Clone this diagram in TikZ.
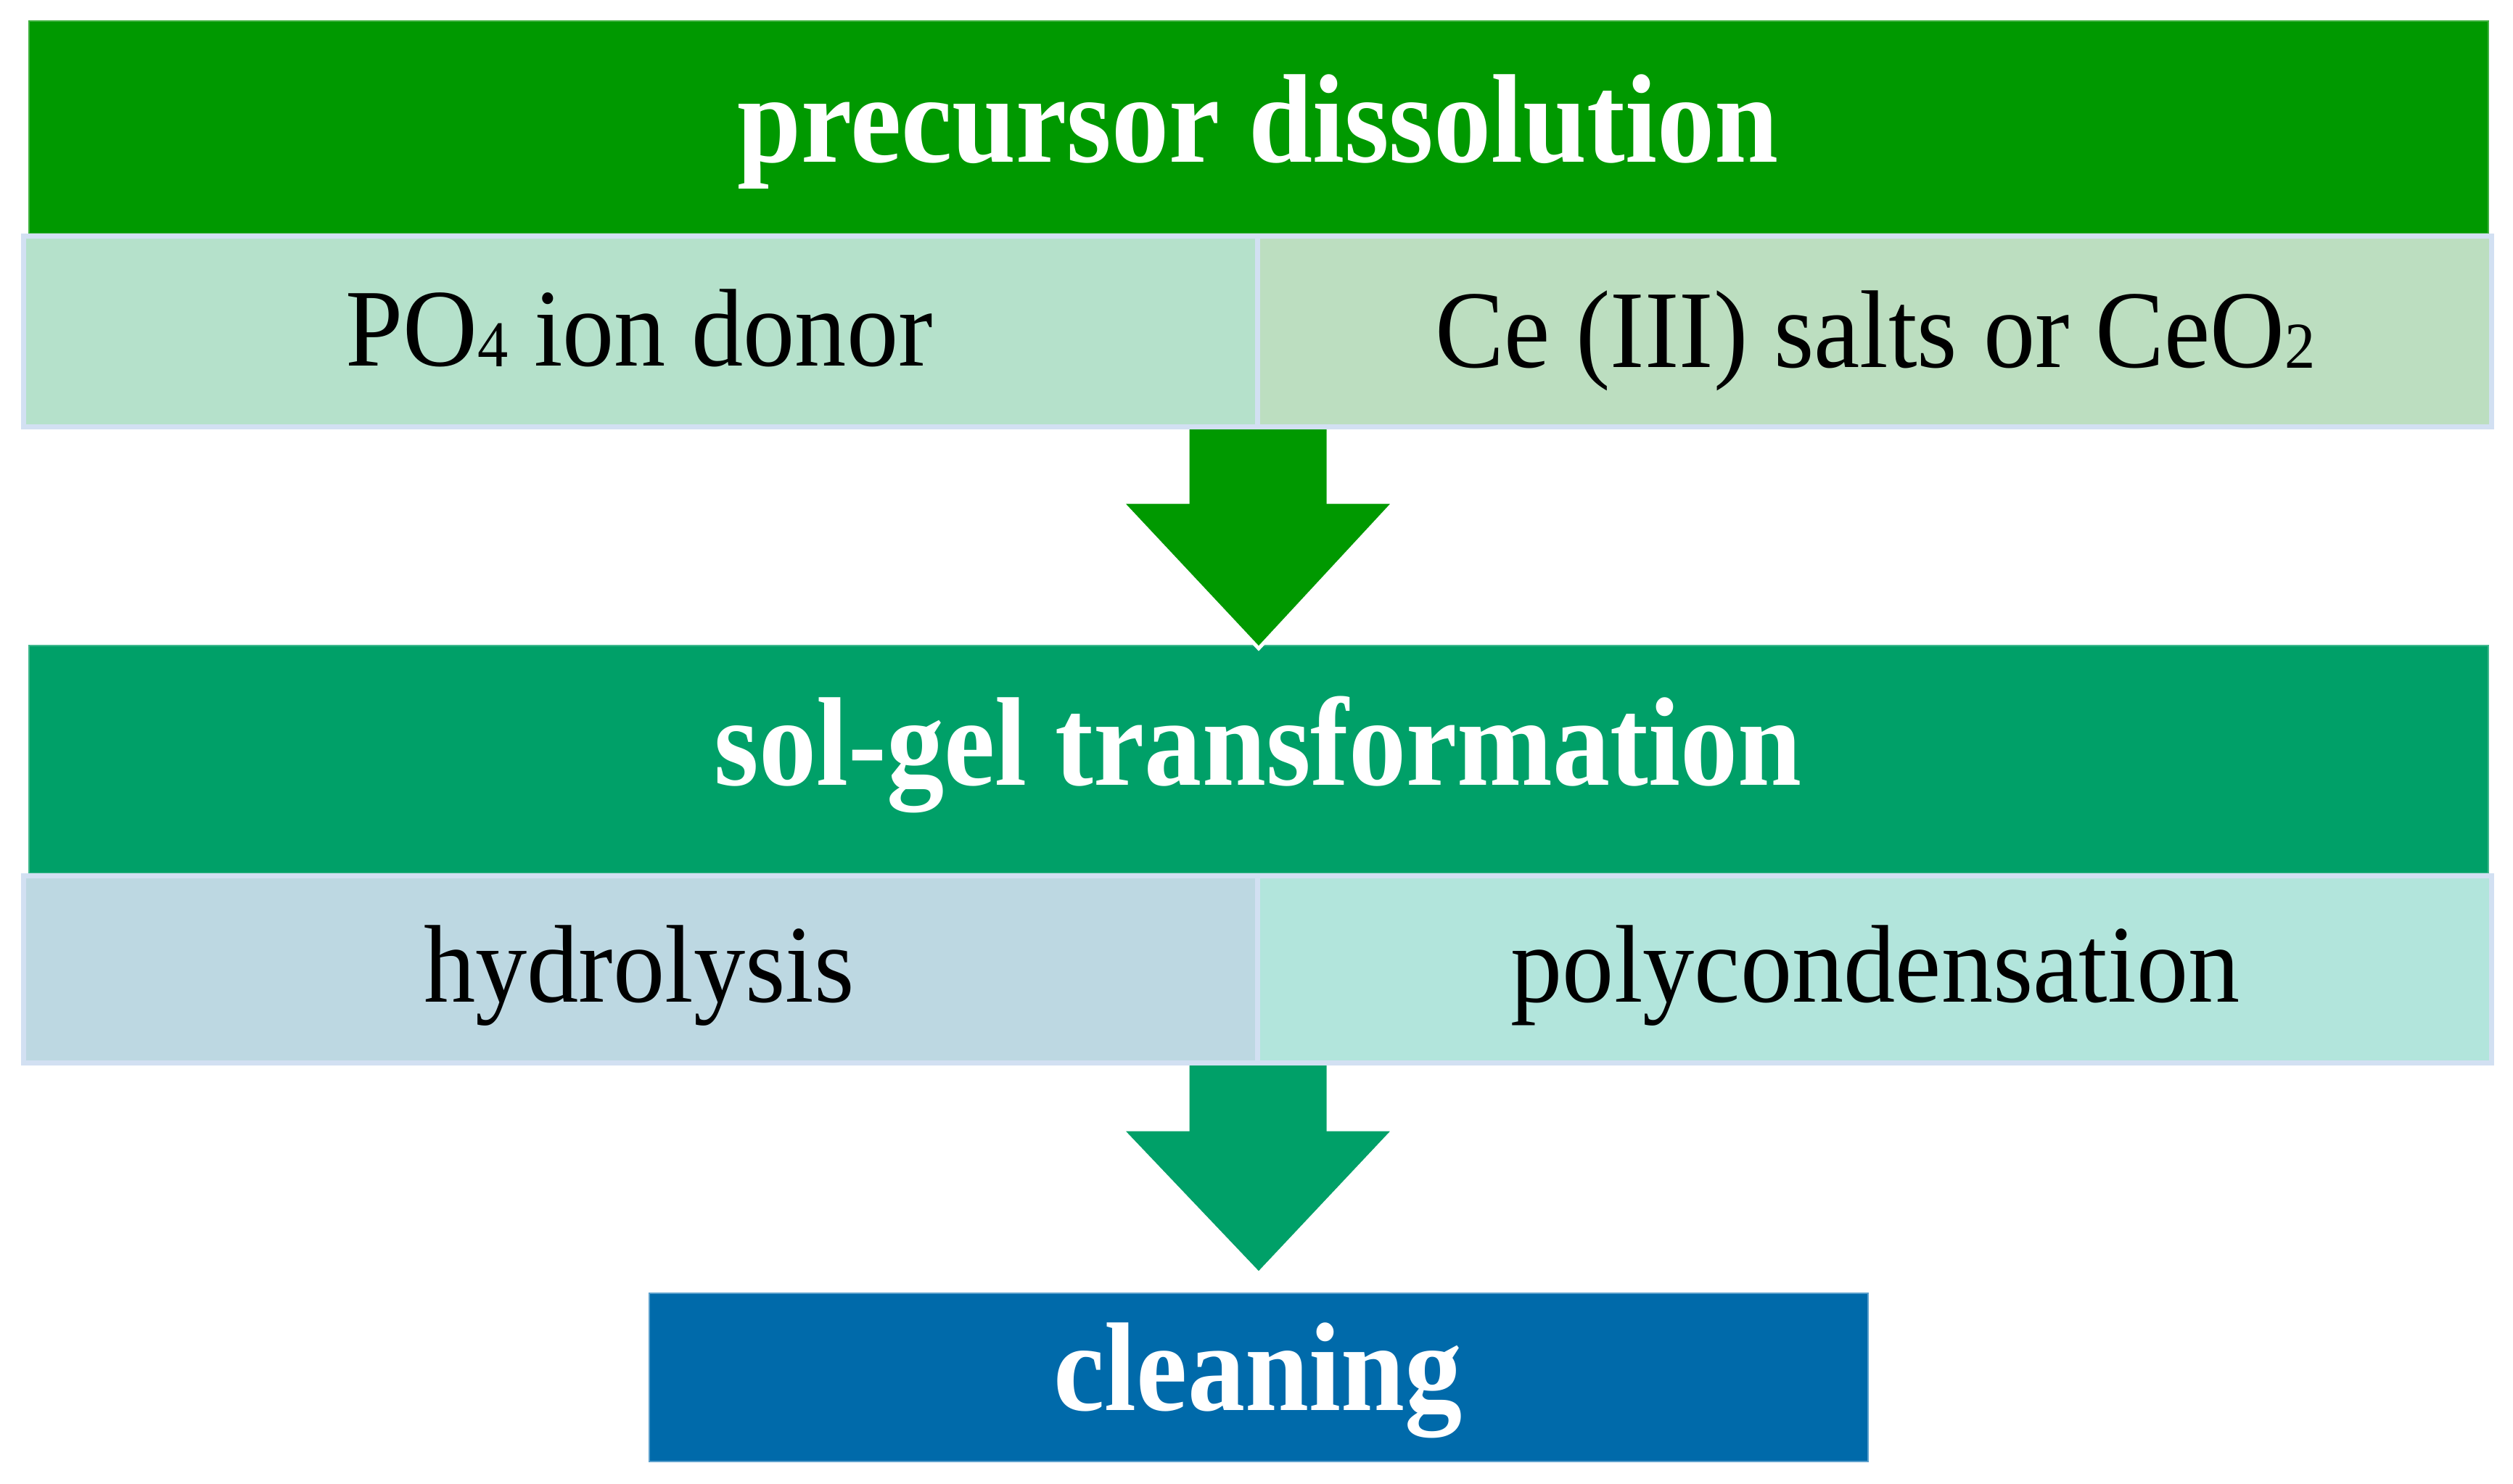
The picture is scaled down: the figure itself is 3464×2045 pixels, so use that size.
\documentclass[tikz,border=0pt]{standalone}
\usepackage{fontspec}
\setmainfont{Liberation Serif}
\usetikzlibrary{calc}
\definecolor{gA}{RGB}{0,153,0}
\definecolor{gB}{RGB}{0,160,104}
\definecolor{bl}{RGB}{0,106,170}
\definecolor{blEdge}{RGB}{90,160,205}
\definecolor{rAa}{RGB}{181,225,203}
\definecolor{rAb}{RGB}{188,222,192}
\definecolor{rBa}{RGB}{189,216,226}
\definecolor{rBb}{RGB}{178,229,220}
\definecolor{bord}{RGB}{210,224,242}
\newcommand{\mysub}[1]{\raisebox{-0.01em}{\fontsize{24}{24}\selectfont #1}}
\newcommand{\headstretch}[1]{\scalebox{1}[1.1]{#1}}
\newcommand{\substretch}[1]{\scalebox{1}[1.07]{#1}}
\begin{document}
\begin{tikzpicture}[x=0.01cm,y=-0.01cm,
  box/.style={rectangle, inner sep=0pt, outer sep=0pt, anchor=north west},
  subbox/.style={box, draw=bord, line width=0.07cm},
  headtxt/.style={font=\bfseries\fontsize{45}{54}\selectfont, text=white, anchor=base, inner sep=0pt},
  subtxt/.style={font=\fontsize{40.5}{48}\selectfont, text=black, anchor=base, inner sep=0pt},
  blockarrow/.style={draw=white, line width=0.05cm, line join=miter}
]
\useasboundingbox (0,0) rectangle (3464,2045);
\fill[white] (0,0) rectangle (3464,2045);

% stage 1
\node[box, fill=gA, draw=gA!75!white, line width=0.02cm, minimum width=33.88cm, minimum height=2.93cm] (g1) at (40,29) {};
\node[subbox, fill=rAa, minimum width=17.005cm, minimum height=2.63cm] (r1a) at (32.5,325.5) {};
\node[subbox, fill=rAb, minimum width=17.005cm, minimum height=2.63cm] (r1b) at (1733,325.5) {};
\node[headtxt] (t1) at (1734,223) {\headstretch{precursor dissolution}};
\node[subtxt] (t1a) at (881,504) {\substretch{PO\mysub{4} ion donor}};
\node[subtxt] (t1b) at (2585,506) {\substretch{Ce (III) salts or CeO\mysub{2}}};

% stage 2
\node[box, fill=gB, draw=gB!75!white, line width=0.02cm, minimum width=33.88cm, minimum height=3.14cm] (g2) at (40,890) {};
\node[subbox, fill=rBa, minimum width=17.005cm, minimum height=2.58cm] (r2a) at (32.5,1207.5) {};
\node[subbox, fill=rBb, minimum width=17.005cm, minimum height=2.58cm] (r2b) at (1733,1207.5) {};
\node[headtxt] (t2) at (1734,1082) {\headstretch{sol-gel transformation}};
\node[subtxt] (t2a) at (881,1381) {\substretch{hydrolysis}};
\node[subtxt] (t2b) at (2585,1381) {\substretch{polycondensation}};

% stage 3
\node[box, fill=bl, draw=blEdge, line width=0.025cm, minimum width=16.79cm, minimum height=2.32cm] (g3) at (895,1783) {};
\node[headtxt] (t3) at (1734,1944) {\headstretch{cleaning}};

% arrows
\coordinate (a1s) at ($(r1a.south east)+(0,3.5)$);
\coordinate (a1t) at ($(g2.north)+(0,4)$);
\filldraw[blockarrow, fill=gA] ($(a1s)+(-97,0)$) -- ($(a1s)+(-97,100)$) -- ($(a1s)+(-188,100)$) -- (a1t) -- ($(a1s)+(188,100)$) -- ($(a1s)+(97,100)$) -- ($(a1s)+(97,0)$);
\coordinate (a2s) at ($(r2a.south east)+(0,3.5)$);
\coordinate (a2t) at ($(g3.north)+(0,-27)$);
\filldraw[blockarrow, fill=gB] ($(a2s)+(-97,0)$) -- ($(a2s)+(-97,88)$) -- ($(a2s)+(-188,88)$) -- (a2t) -- ($(a2s)+(188,88)$) -- ($(a2s)+(97,88)$) -- ($(a2s)+(97,0)$);
\end{tikzpicture}
\end{document}
